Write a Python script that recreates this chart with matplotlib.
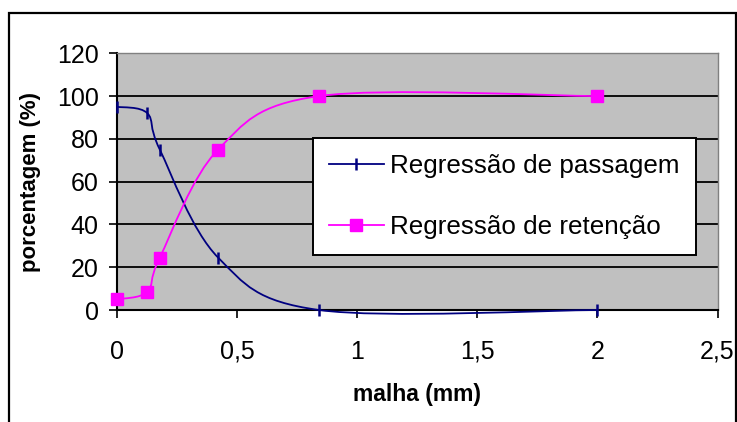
import matplotlib
matplotlib.use("Agg")
import matplotlib.pyplot as plt
from matplotlib.path import Path
from matplotlib.patches import PathPatch, Rectangle
from matplotlib.lines import Line2D
import numpy as np

plt.rcParams['font.family'] = ['Liberation Sans', 'DejaVu Sans']

# Data
malha = [0.0, 0.125, 0.177, 0.42, 0.84, 2.0]
passagem = [95, 92, 75, 24.5, 0, 0]
retencao = [5, 8.5, 24.5, 75, 100, 100]
series_names = ["Regressão de passagem", "Regressão de retenção"]
xticks = [0, 0.5, 1, 1.5, 2, 2.5]
xtick_labels = ["0", "0,5", "1", "1,5", "2", "2,5"]
yticks = [0, 20, 40, 60, 80, 100, 120]
xlabel = "malha (mm)"
ylabel = "porcentagem (%)"

navy = "#000080"
magenta = "#FF00FF"


def smooth_path(xs, ys):
    """Excel-like smoothed line: cubic Bezier through data points."""
    pts = np.column_stack([xs, ys]).astype(float)
    n = len(pts)
    verts = [tuple(pts[0])]
    codes = [Path.MOVETO]
    for i in range(n - 1):
        p0 = pts[i - 1] if i > 0 else pts[i]
        p1 = pts[i]
        p2 = pts[i + 1]
        p3 = pts[i + 2] if i + 2 < n else pts[i + 1]
        c1 = p1 + (p2 - p0) / 6.0
        c2 = p2 - (p3 - p1) / 6.0
        verts += [tuple(c1), tuple(c2), tuple(p2)]
        codes += [Path.CURVE4] * 3
    return Path(verts, codes)


W, H = 737, 422
fig = plt.figure(figsize=(W / 100, H / 100), dpi=100)
fig.patch.set_facecolor("white")

# outer chart border
fig.patches.append(Rectangle((9 / W, -0.05), (736.5 - 9) / W, 1.05 - 13 / H,
                             transform=fig.transFigure, fill=False,
                             edgecolor="black", linewidth=1.6, clip_on=True))

ax = fig.add_axes([117.3 / W, 1 - 310 / H, (717.5 - 117.3) / W, (310 - 53.3) / H])
ax.set_facecolor("#C0C0C0")
ax.set_xlim(0, 2.5)
ax.set_ylim(0, 120)

ax.set_yticks(yticks)
ax.set_xticks(xticks)
ax.set_xticklabels(xtick_labels)
ax.yaxis.grid(True, color="black", linewidth=1.3)
ax.set_axisbelow(True)

for s in ["top", "right"]:
    ax.spines[s].set_color("#808080")
    ax.spines[s].set_linewidth(1.0)
for s in ["left", "bottom"]:
    ax.spines[s].set_color("black")
    ax.spines[s].set_linewidth(1.5)

ax.tick_params(axis="both", direction="out", length=5.5, width=1.2, color="black",
               labelsize=18, labelcolor="black")
ax.tick_params(axis="y", pad=8)
ax.tick_params(axis="x", pad=16)

ax.set_xlabel(xlabel, fontsize=16.5, fontweight="bold", labelpad=14)
ax.set_ylabel(ylabel, fontsize=16, fontweight="bold", labelpad=11)

# curves
for ys, col in [(passagem, navy), (retencao, magenta)]:
    patch = PathPatch(smooth_path(malha, ys), fill=False, edgecolor=col,
                      linewidth=1.3, zorder=3, clip_on=False)
    ax.add_patch(patch)

ax.plot(malha, passagem, linestyle="none", marker="|", markersize=8,
        markeredgewidth=1.8, color=navy, zorder=4, clip_on=False)
ax.plot(malha, retencao, linestyle="none", marker="s", markersize=9.3,
        color=magenta, markeredgecolor=magenta, zorder=4, clip_on=False)

handles = [
    Line2D([], [], color=navy, linewidth=1.3, marker="|", markersize=8,
           markeredgewidth=1.8),
    Line2D([], [], color=magenta, linewidth=1.3, marker="s", markersize=9.3),
]
leg = ax.legend(handles, series_names, loc="upper left",
                bbox_to_anchor=(0.326, 0.670), borderaxespad=0,
                fontsize=18.7, frameon=True, fancybox=False, framealpha=1,
                handlelength=2.1, handletextpad=0.25, labelspacing=1.42,
                borderpad=0.62)
leg.get_frame().set_edgecolor("black")
leg.get_frame().set_linewidth(1.4)
leg.get_frame().set_facecolor("white")

fig.savefig("out.png", dpi=100)
